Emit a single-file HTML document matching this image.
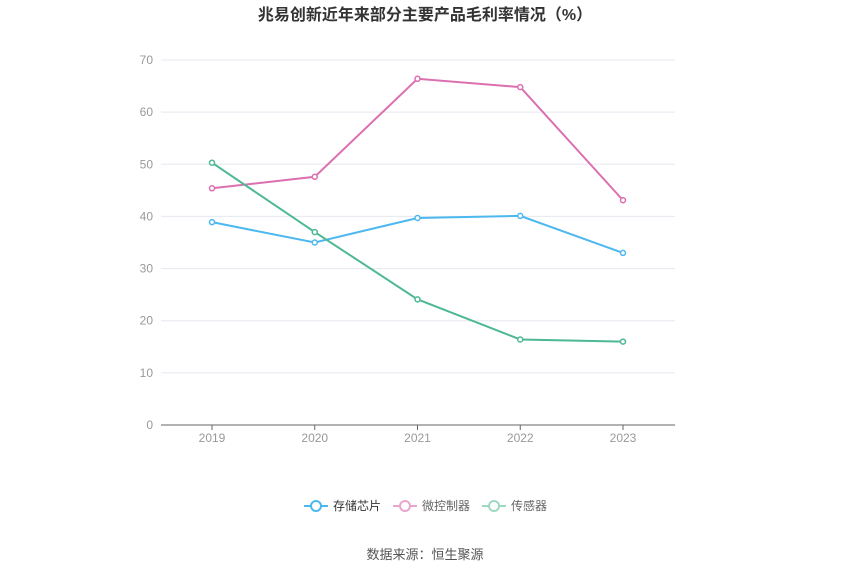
<!DOCTYPE html>
<html><head><meta charset="utf-8"><style>
body{margin:0;background:#fff;font-family:"Liberation Sans","Noto Sans CJK SC",sans-serif;}
</style></head><body>
<svg width="850" height="575" xmlns="http://www.w3.org/2000/svg" id="chart" font-family="Liberation Sans, Noto Sans CJK SC, sans-serif">
<text x="425" y="20" text-anchor="middle" font-size="16" font-weight="bold" fill="#333">兆易创新近年来部分主要产品毛利率情况（%）</text>
<g id="grid"></g><g id="series"></g>
<g>
<g><line x1="304" y1="506" x2="328" y2="506" stroke="#4cb8ef" stroke-width="2"/><circle cx="316" cy="506" r="5" fill="#fff" stroke="#4cb8ef" stroke-width="2"/><text x="333" y="510" font-size="12" fill="#333">存储芯片</text></g>
<g><line x1="393" y1="506" x2="417" y2="506" stroke="#eaa5cf" stroke-width="2"/><circle cx="405" cy="506" r="5" fill="#fff" stroke="#eaa5cf" stroke-width="2"/><text x="422" y="510" font-size="12" fill="#666">微控制器</text></g>
<g><line x1="482" y1="506" x2="506" y2="506" stroke="#9fd8c0" stroke-width="2"/><circle cx="494" cy="506" r="5" fill="#fff" stroke="#9fd8c0" stroke-width="2"/><text x="511" y="510" font-size="12" fill="#666">传感器</text></g>
</g>
<text x="425" y="559" text-anchor="middle" font-size="13" fill="#555">数据来源：恒生聚源</text>
</svg>
<script>
const categories=["2019","2020","2021","2022","2023"];
const yTicks=[0,10,20,30,40,50,60,70];
const storage=[38.9,35.0,39.7,40.1,33.0];
const mcu=[45.4,47.6,66.4,64.8,43.1];
const sensor=[50.3,37.0,24.1,16.4,16.0];
const NS="http://www.w3.org/2000/svg";
const X0=161,X1=675,Y0=425,Y1=60;
const xS=i=>212+i*(623-212)/(categories.length-1);
const yS=v=>Y0-(v/70)*(Y0-Y1);
function mk(t,a,p){const e=document.createElementNS(NS,t);for(const k in a)e.setAttribute(k,a[k]);p.appendChild(e);return e;}
const g=document.getElementById('grid');
yTicks.forEach(v=>{
 if(v>0){const l=mk('line',{x1:X0,x2:X1,y1:yS(v),y2:yS(v),stroke:'#e6e8f0','stroke-width':1},g);
 
 }
 const t=mk('text',{x:153,y:yS(v)+4,'text-anchor':'end','font-size':12,fill:'#999'},g);t.textContent=v;
 
 
});
const ax=mk('line',{x1:X0,x2:X1,y1:Y0,y2:Y0,stroke:'#666','stroke-width':1},g);


categories.forEach((c,i)=>{
 mk('line',{x1:xS(i),x2:xS(i),y1:Y0,y2:Y0+5,stroke:'#666'},g);
 const t=mk('text',{x:xS(i),y:442,'text-anchor':'middle','font-size':12,fill:'#999'},g);t.textContent=c;
 
 
});
const sg=document.getElementById('series');
[[storage,'#4cb8ef','storage'],[mcu,'#dc6fb0','mcu'],[sensor,'#4db894','sensor']].forEach(([d,c,n])=>{
 const pl=mk('polyline',{points:d.map((v,i)=>xS(i)+','+yS(v)).join(' '),fill:'none',stroke:c,'stroke-width':2},sg);
 
 
 d.forEach((v,i)=>{const p=mk('circle',{cx:xS(i),cy:yS(v),r:2.5,fill:'#fff',stroke:c,'stroke-width':1.5},sg);
 
 });
});
</script>
</body></html>
